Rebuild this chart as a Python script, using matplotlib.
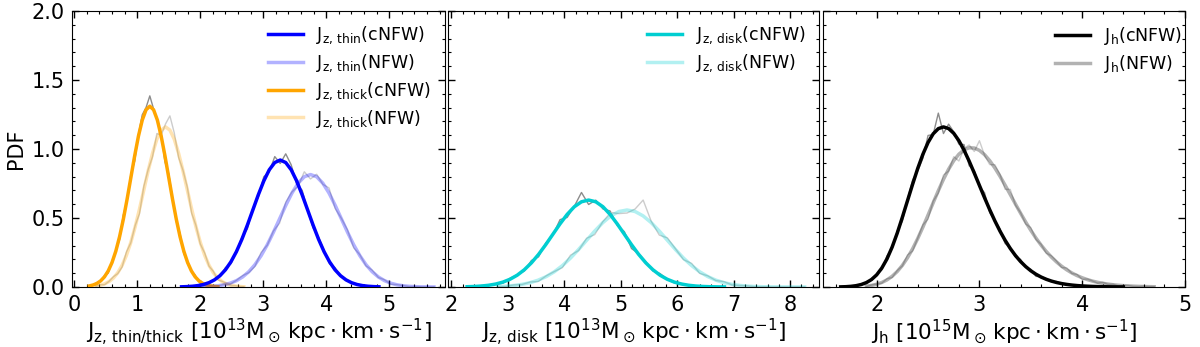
import numpy as np
import matplotlib
matplotlib.use('Agg')
import matplotlib.pyplot as plt
from matplotlib.ticker import MultipleLocator

plt.rcParams['mathtext.default'] = 'regular'
plt.rcParams['font.family'] = ['DejaVu Sans']

# ---- panel 1: J_z thin / thick disk ----
# each curve: start x, step, values
thin_c_x0, thin_c_dx = 1.704, 0.087
thin_c_fit = [0.0014, 0.0029, 0.0055, 0.0102, 0.0182, 0.0313, 0.0516, 0.0818, 0.1245, 0.1821,
              0.2558, 0.3453, 0.4479, 0.5580, 0.6680, 0.7685, 0.8493, 0.9018, 0.920, 0.9018,
              0.8493, 0.7685, 0.6680, 0.5580, 0.4479, 0.3453, 0.2558, 0.1821, 0.1245, 0.0818,
              0.0516, 0.0313, 0.0182, 0.0102, 0.0055, 0.0029, 0.0014]
thin_c_hist = [0.001, 0.005, 0.006, 0.008, 0.024, 0.025, 0.056, 0.079, 0.140, 0.169,
               0.258, 0.360, 0.421, 0.569, 0.652, 0.799, 0.835, 0.945, 0.895, 0.965,
               0.885, 0.747, 0.701, 0.554, 0.428, 0.360, 0.263, 0.167, 0.140, 0.079,
               0.053, 0.028, 0.022, 0.009, 0.006, 0.002, 0.002]

thin_n_x0, thin_n_dx = 1.79, 0.098
thin_n_fit = [0.0003, 0.0006, 0.0012, 0.0025, 0.0049, 0.0090, 0.0161, 0.0277, 0.0457, 0.0725,
              0.1103, 0.1613, 0.2266, 0.3059, 0.3967, 0.4943, 0.5918, 0.6808, 0.7523, 0.7989,
              0.815, 0.7989, 0.7523, 0.6808, 0.5918, 0.4943, 0.3967, 0.3059, 0.2266, 0.1613,
              0.1103, 0.0725, 0.0457, 0.0277, 0.0161, 0.0090, 0.0049, 0.0025, 0.0012, 0.0006,
              0.0003]
thin_n_hist = [0.000, 0.001, 0.001, 0.001, 0.008, 0.008, 0.019, 0.021, 0.048, 0.082,
               0.104, 0.149, 0.250, 0.303, 0.406, 0.463, 0.615, 0.689, 0.731, 0.835,
               0.783, 0.817, 0.744, 0.718, 0.569, 0.498, 0.413, 0.284, 0.234, 0.153,
               0.122, 0.069, 0.052, 0.020, 0.017, 0.011, 0.003, 0.004, 0.001, 0.000,
               0.001]

thick_c_x0, thick_c_dx = 0.24, 0.06
thick_c_fit = [0.0079, 0.0145, 0.0259, 0.0445, 0.0735, 0.1165, 0.1772, 0.2592, 0.3642, 0.4916,
               0.6377, 0.7945, 0.9512, 1.0942, 1.2093, 1.2841, 1.310, 1.2841, 1.2093, 1.0942,
               0.9512, 0.7945, 0.6377, 0.4916, 0.3642, 0.2592, 0.1772, 0.1165, 0.0735, 0.0445,
               0.0259, 0.0145, 0.0079, 0.0041, 0.0020]
thick_c_hist = [0.009, 0.012, 0.032, 0.042, 0.082, 0.101, 0.186, 0.262, 0.343, 0.523,
                0.626, 0.817, 0.912, 1.105, 1.248, 1.300, 1.385, 1.290, 1.204, 1.110,
                0.907, 0.821, 0.646, 0.474, 0.388, 0.241, 0.186, 0.113, 0.086, 0.038,
                0.027, 0.018, 0.004, 0.005, 0.001]

thick_n_x0, thick_n_dx = 0.346, 0.069
thick_n_fit = [0.0070, 0.0129, 0.0230, 0.0394, 0.0651, 0.1031, 0.1569, 0.2296, 0.3225, 0.4353,
               0.5647, 0.7035, 0.8423, 0.9689, 1.0708, 1.1370, 1.160, 1.1370, 1.0708, 0.9689,
               0.8423, 0.7035, 0.5647, 0.4353, 0.3225, 0.2296, 0.1569, 0.1031, 0.0651, 0.0394,
               0.0230, 0.0129, 0.0070, 0.0036, 0.0017]
thick_n_hist = [0.006, 0.016, 0.017, 0.041, 0.074, 0.097, 0.145, 0.254, 0.320, 0.445,
                0.531, 0.729, 0.851, 0.944, 1.112, 1.100, 1.182, 1.240, 1.117, 0.939,
                0.847, 0.724, 0.535, 0.445, 0.311, 0.246, 0.151, 0.113, 0.052, 0.041,
                0.026, 0.010, 0.010, 0.004, 0.002]

# ---- panel 2: J_z whole disk ----
disk_c_x0, disk_c_dx = 2.278, 0.1266
disk_c_fit = [0.0020, 0.0038, 0.0070, 0.0125, 0.0214, 0.0353, 0.0560, 0.0852, 0.1247, 0.1751,
              0.2364, 0.3067, 0.3821, 0.4574, 0.5262, 0.5816, 0.6175, 0.630, 0.6175, 0.5816,
              0.5262, 0.4574, 0.3821, 0.3067, 0.2364, 0.1751, 0.1247, 0.0852, 0.0560, 0.0353,
              0.0214, 0.0125, 0.0070, 0.0038, 0.0020, 0.0009, 0.0005]
disk_c_hist = [0.002, 0.002, 0.011, 0.012, 0.023, 0.027, 0.063, 0.088, 0.116, 0.192,
               0.219, 0.318, 0.376, 0.488, 0.504, 0.585, 0.685, 0.598, 0.629, 0.566,
               0.551, 0.447, 0.401, 0.279, 0.241, 0.183, 0.116, 0.097, 0.055, 0.030,
               0.025, 0.014, 0.004, 0.005, 0.002, 0.001, 0.000]

disk_n_x0, disk_n_dx = 2.822, 0.143
disk_n_fit = [0.0033, 0.0062, 0.0110, 0.0190, 0.0313, 0.0496, 0.0755, 0.1104, 0.1551, 0.2094,
              0.2716, 0.3384, 0.4052, 0.4661, 0.5151, 0.5470, 0.558, 0.5470, 0.5151, 0.4661,
              0.4052, 0.3384, 0.2716, 0.2094, 0.1551, 0.1104, 0.0755, 0.0496, 0.0313, 0.0190,
              0.0110, 0.0062, 0.0033, 0.0017, 0.0008, 0.0004, 0.0002, 0.0001, 0.0000]
disk_n_hist = [0.004, 0.004, 0.015, 0.018, 0.036, 0.040, 0.081, 0.112, 0.141, 0.230,
               0.264, 0.353, 0.380, 0.473, 0.540, 0.532, 0.536, 0.565, 0.630, 0.476,
               0.376, 0.356, 0.277, 0.198, 0.171, 0.099, 0.081, 0.047, 0.039, 0.015,
               0.011, 0.008, 0.001, 0.002, 0.000, 0.001, 0.000, 0.001, 0.000]

# ---- panel 3: J_h halo ----
h_c_x0, h_c_dx = 1.65, 0.05
h_c_fit = [0.0010, 0.0022, 0.0048, 0.0096, 0.0180, 0.0320, 0.0540, 0.0880, 0.1370, 0.2030,
           0.2880, 0.3900, 0.5050, 0.6250, 0.7450, 0.8600, 0.9620, 1.0470, 1.1100, 1.1476,
           1.160, 1.1481, 1.1138, 1.0605, 0.9918, 0.9121, 0.8255, 0.7358, 0.6465, 0.5603,
           0.4793, 0.4050, 0.3383, 0.2793, 0.2283, 0.1847, 0.1480, 0.1175, 0.0925, 0.0722,
           0.0559, 0.0430, 0.0328, 0.0248, 0.0187, 0.0140, 0.0104, 0.0077, 0.0057, 0.0041,
           0.0030, 0.0022, 0.0016, 0.0011, 0.0008, 0.0006]
h_c_hist = [0.002, 0.002, 0.008, 0.010, 0.022, 0.028, 0.060, 0.090, 0.125, 0.225,
            0.280, 0.405, 0.476, 0.634, 0.775, 0.842, 0.933, 1.098, 1.105, 1.260,
            1.112, 1.180, 1.124, 1.035, 1.032, 0.879, 0.844, 0.727, 0.683, 0.538,
            0.482, 0.421, 0.315, 0.287, 0.218, 0.200, 0.142, 0.128, 0.077, 0.075,
            0.061, 0.038, 0.040, 0.024, 0.015, 0.017, 0.012, 0.005, 0.009, 0.004,
            0.003, 0.001, 0.003, 0.001, 0.001, 0.000]

h_n_x0, h_n_dx = 1.90, 0.05
h_n_fit = [0.0064, 0.0115, 0.0199, 0.0326, 0.0512, 0.0773, 0.1120, 0.1566, 0.2117, 0.2769,
           0.3517, 0.4339, 0.5212, 0.6103, 0.6979, 0.7801, 0.8536, 0.9151, 0.9623, 0.9938,
           1.0087, 1.0071, 0.9899, 0.9588, 0.9156, 0.8626, 0.8024, 0.7375, 0.6699, 0.6018,
           0.5350, 0.4709, 0.4104, 0.3544, 0.3035, 0.2576, 0.2170, 0.1814, 0.1505, 0.1240,
           0.1015, 0.0825, 0.0668, 0.0536, 0.0428, 0.0340, 0.0269, 0.0212, 0.0166, 0.0129,
           0.0100, 0.0078, 0.0060, 0.0045, 0.0035, 0.0026, 0.0020]
h_n_hist = [0.003, 0.015, 0.021, 0.028, 0.060, 0.068, 0.119, 0.153, 0.232, 0.261,
            0.355, 0.450, 0.492, 0.622, 0.681, 0.811, 0.840, 0.944, 0.913, 1.004,
            1.029, 0.982, 1.060, 0.954, 0.887, 0.886, 0.816, 0.708, 0.707, 0.594,
            0.539, 0.457, 0.430, 0.345, 0.309, 0.245, 0.226, 0.188, 0.141, 0.138,
            0.098, 0.091, 0.055, 0.058, 0.044, 0.028, 0.034, 0.019, 0.020, 0.008,
            0.011, 0.011, 0.004, 0.003, 0.006, 0.003, 0.002]


def xgrid(x0, dx, vals):
    return x0 + dx * np.arange(len(vals))


def style_axis(ax, xlim, show_y):
    ax.set_xlim(*xlim)
    ax.set_ylim(0, 2.0)
    ax.xaxis.set_major_locator(MultipleLocator(1))
    ax.xaxis.set_minor_locator(MultipleLocator(0.2))
    ax.yaxis.set_major_locator(MultipleLocator(0.5))
    ax.yaxis.set_minor_locator(MultipleLocator(0.1))
    ax.tick_params(which='both', direction='in', top=True, right=True, labelsize=15)
    ax.tick_params(which='major', length=5, width=1)
    ax.tick_params(which='minor', length=2.5, width=0.8)
    ax.tick_params(axis='x', which='major', pad=6)
    ax.tick_params(axis='y', which='major', pad=5)
    if show_y:
        ax.yaxis.set_major_formatter(matplotlib.ticker.FormatStrFormatter('%.1f'))
        ax.set_ylabel('PDF', fontsize=15, labelpad=4)
    else:
        ax.tick_params(labelleft=False)


def plot_pair(ax, x0c, dxc, fitc, histc, x0n, dxn, fitn, histn, color, lab_c, lab_n, z=2):
    ax.plot(xgrid(x0c, dxc, histc), histc, color='grey', lw=1.0, alpha=0.9, zorder=1)
    ax.plot(xgrid(x0n, dxn, histn), histn, color='silver', lw=1.0, alpha=0.8, zorder=1)
    hc, = ax.plot(xgrid(x0c, dxc, fitc), fitc, color=color, lw=2.5, label=lab_c, zorder=z + 1)
    hn, = ax.plot(xgrid(x0n, dxn, fitn), fitn, color=color, lw=2.5, alpha=0.3, label=lab_n, zorder=z)
    return hc, hn


def add_legend(ax, handles=None, anchor=(1.0, 1.0)):
    kw = dict(loc='upper right', frameon=False, fontsize=12.5, labelspacing=0.35,
              borderaxespad=0.4, bbox_to_anchor=anchor)
    if handles is None:
        ax.legend(**kw)
    else:
        ax.legend(handles=handles, **kw)


fig = plt.figure(figsize=(12, 3.47), dpi=100)
ax1 = fig.add_axes([72 / 1200, 60 / 347, 373 / 1200, 276 / 347])
ax2 = fig.add_axes([448 / 1200, 60 / 347, 371 / 1200, 276 / 347])
ax3 = fig.add_axes([823 / 1200, 60 / 347, 362 / 1200, 276 / 347])

xlab_kw = dict(fontsize=15.5, labelpad=1)

# panel 1
h1 = plot_pair(ax1, thin_c_x0, thin_c_dx, thin_c_fit, thin_c_hist,
               thin_n_x0, thin_n_dx, thin_n_fit, thin_n_hist,
               'blue', r'$J_{z,\,thin}$(cNFW)', r'$J_{z,\,thin}$(NFW)', z=4)
h2 = plot_pair(ax1, thick_c_x0, thick_c_dx, thick_c_fit, thick_c_hist,
               thick_n_x0, thick_n_dx, thick_n_fit, thick_n_hist,
               'orange', r'$J_{z,\,thick}$(cNFW)', r'$J_{z,\,thick}$(NFW)', z=2)
add_legend(ax1, list(h1) + list(h2))
style_axis(ax1, (-0.035, 5.885), True)
ax1.set_xlabel(r'$J_{z,\,thin/thick}\ [10^{13}M_\odot\,kpc\cdot km\cdot s^{-1}]$', **xlab_kw)

# panel 2
plot_pair(ax2, disk_c_x0, disk_c_dx, disk_c_fit, disk_c_hist,
          disk_n_x0, disk_n_dx, disk_n_fit, disk_n_hist,
          'darkturquoise', r'$J_{z,\,disk}$(cNFW)', r'$J_{z,\,disk}$(NFW)')
add_legend(ax2)
style_axis(ax2, (1.94, 8.51), False)
ax2.set_xlabel(r'$J_{z,\,disk}\ [10^{13}M_\odot\,kpc\cdot km\cdot s^{-1}]$', **xlab_kw)

# panel 3
plot_pair(ax3, h_c_x0, h_c_dx, h_c_fit, h_c_hist,
          h_n_x0, h_n_dx, h_n_fit, h_n_hist,
          'black', r'$J_h$(cNFW)', r'$J_h$(NFW)')
add_legend(ax3, anchor=(1.03, 1.0))
style_axis(ax3, (1.478, 5.0), False)
ax3.set_xlabel(r'$J_h\ [10^{15}M_\odot\,kpc\cdot km\cdot s^{-1}]$', **xlab_kw)

fig.savefig('out.png', dpi=100)
